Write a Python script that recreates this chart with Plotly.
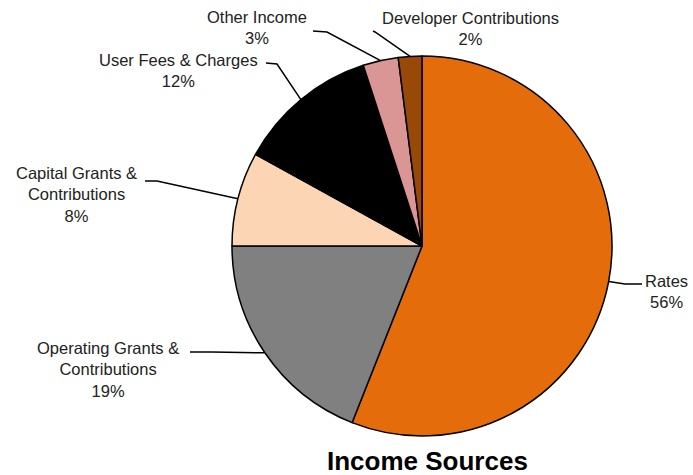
import math
import plotly.graph_objects as go

labels = ["Rates", "Operating Grants &<br>Contributions", "Capital Grants &<br>Contributions",
          "User Fees & Charges", "Other Income", "Developer Contributions"]
values = [56, 19, 8, 12, 3, 2]
colors = ["#E46C0A", "#808080", "#FCD5B5", "#000000", "#D99694", "#984807"]

W, H = 693, 475
cx, cy, r = 422, 246, 190

def px(x):
    return x / W

def py(y):
    return 1 - y / H

# label centre (pixels) and leader line start + elbow (pixels)
label_pos = [(666, 291), (108, 369), (76, 195), (178, 70), (257, 27), (470, 28)]
leader = [
    [(642, 284), (625, 284)],
    [(190, 352), (212, 352)],
    [(145, 181), (157, 181)],
    [(266, 63), (277, 64)],
    [(313, 31), (327, 32)],
    [(373, 31), (375, 32)],
]

fig = go.Figure(go.Pie(
    labels=labels, values=values, sort=False, direction="clockwise", rotation=0,
    marker=dict(colors=colors, line=dict(color="#000000", width=1.5)),
    textinfo="none", hoverinfo="label+percent", showlegend=False,
    domain=dict(x=[px(cx - r), px(cx + r)], y=[py(cy + r), py(cy - r)]),
))

total = sum(values)
cum = 0
shapes = []
annotations = []
for i, (lab, v) in enumerate(zip(labels, values)):
    mid = (cum + v / 2) / total * 2 * math.pi
    cum += v
    ex = cx + r * math.sin(mid)
    ey = cy - r * math.cos(mid)
    (sx, sy), (bx, by) = leader[i]
    path = f"M {px(sx)} {py(sy)} L {px(bx)} {py(by)} L {px(ex)} {py(ey)}"
    shapes.append(dict(type="path", xref="paper", yref="paper", path=path,
                       line=dict(color="#000000", width=1.5)))
    lx, ly = label_pos[i]
    annotations.append(dict(x=px(lx), y=py(ly), xref="paper", yref="paper",
                            text=f"{lab}<br>{round(v / total * 100)}%", showarrow=False,
                            align="center", xanchor="center", yanchor="middle",
                            font=dict(family="Liberation Sans, Arial", size=16.5, color="#222222")))

annotations.append(dict(x=px(427), y=py(461), xref="paper", yref="paper",
                        text="<b>Income Sources</b>", showarrow=False,
                        xanchor="center", yanchor="middle",
                        font=dict(family="Liberation Sans, Arial", size=26, color="#000000")))

fig.update_layout(width=W, height=H, margin=dict(l=0, r=0, t=0, b=0),
                  paper_bgcolor="white", plot_bgcolor="white",
                  shapes=shapes, annotations=annotations)

fig.write_html("out.html")
